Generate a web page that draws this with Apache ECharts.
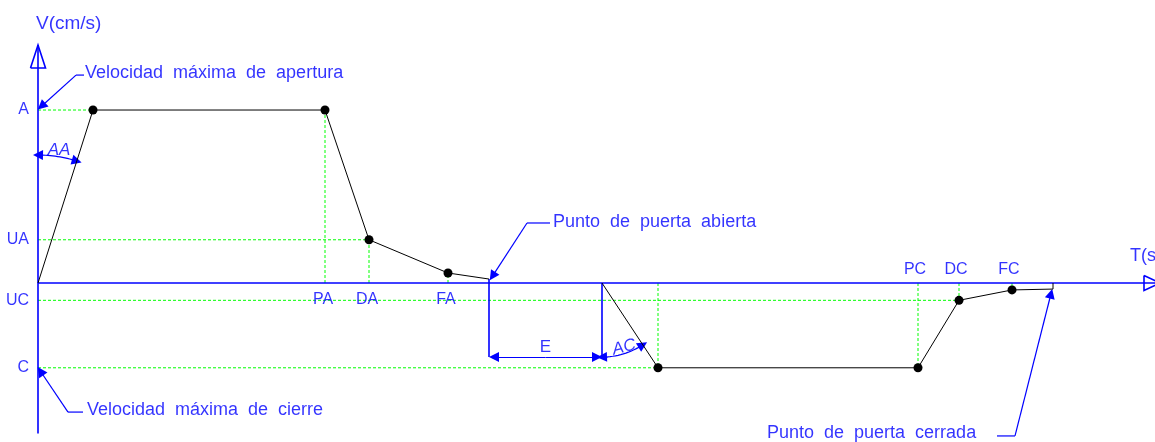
<!DOCTYPE html>
<html>
<head>
<meta charset="utf-8">
<script src="https://cdn.jsdelivr.net/npm/echarts@6/dist/echarts.min.js"></script>
<style>
  html, body { margin: 0; padding: 0; background: #fff; }
  #main { width: 1155px; height: 442px; }
</style>
</head>
<body>
<div id="main"></div>
<script>
// perfil de velocidad: apertura y cierre
const openT = [0, 1.1, 5.74, 6.62, 8.2, 9.02];
const openV = [0, 10, 10, 2.5, 0.58, 0.23];
const closeT = [11.28, 12.4, 17.6, 18.42, 19.48, 20.3, 20.3];
const closeV = [0, -4.9, -4.9, -1, -0.4, -0.35, 0];

// niveles del eje V y marcas del eje T
const levelNames = ['A', 'UA', 'UC', 'C'];
const levelValues = [10, 2.5, -1, -4.9];
const timeNamesBelow = ['PA', 'DA', 'FA'];
const timeBelow = [5.74, 6.62, 8.2];
const timeNamesAbove = ['PC', 'DC', 'FC'];
const timeAbove = [17.6, 18.42, 19.48];
const dimE = -4.28; // cota E

// rango de ejes (la rejilla ocupa todo el lienzo)
const tMin = -0.76, tMax = 22.34, vMin = -9.19, vMax = 16.36;
const W = 1155, H = 442;
const pxT = W / (tMax - tMin);
const pxV = H / (vMax - vMin);

const BLUE = '#0000ff';
const GREEN = '#00ff00';
const FONT = 'Liberation Sans';

const zip = (a, b) => a.map((x, i) => [x, b[i]]);

// arco de cota (angulo) en unidades del grafico
function arc(t0, v0, r, a1, down) {
  const pts = [];
  for (let i = 0; i <= 16; i++) {
    const a = a1 * i / 16;
    pts.push([t0 + r * Math.sin(a) / pxT, v0 + (down ? -1 : 1) * r * Math.cos(a) / pxV]);
  }
  return pts;
}

const aaAngle = Math.atan((openT[1] - openT[0]) * pxT / (openV[1] * pxV));
const acAngle = Math.atan((closeT[1] - closeT[0]) * pxT / (-closeV[1] * pxV));
const aaArc = arc(0, 0, 128, aaAngle, false);
const acArc = arc(closeT[0], 0, -dimE * pxV, acAngle, true);
const ends = pts => [
  { coords: [pts[2], pts[0]] },
  { coords: [pts[pts.length - 3], pts[pts.length - 1]] }
];

// lineas guia verdes [t1, v1, t2, v2]
const guides = [];
[[openT[1], openV[1]], [openT[3], openV[3]], [closeT[3], closeV[3]], [closeT[1], closeV[1]]]
  .forEach(p => guides.push([0, p[1], p[0], p[1]]));
[[openT[2], openV[2]], [openT[3], openV[3]], [openT[4], openV[4]],
 [closeT[1], closeV[1]], [closeT[2], closeV[2]], [closeT[3], closeV[3]], [closeT[4], closeV[4]]]
  .forEach(p => guides.push([p[0], 0, p[0], p[1]]));

const dots = zip(openT, openV).slice(1, 5).concat(zip(closeT, closeV).slice(1, 5));

// textos
const txt = (value, text, opt) => ({
  value: value,
  label: Object.assign({ show: true, formatter: text, color: BLUE, fontFamily: FONT, fontSize: 18 }, opt)
});
const sp = '  ';
const texts = [
  txt([0.94, 12.14], ['Velocidad', 'máxima', 'de', 'apertura'].join(sp), { position: 'right', distance: 0 }),
  txt([0.98, -7.34], ['Velocidad', 'máxima', 'de', 'cierre'].join(sp), { position: 'right', distance: 0 }),
  txt([10.3, 3.53], ['Punto', 'de', 'puerta', 'abierta'].join(sp), { position: 'right', distance: 0 }),
  txt([14.58, -8.67], ['Punto', 'de', 'puerta', 'cerrada'].join(sp), { position: 'right', distance: 0 }),
  txt([-0.04, 15.0], 'V(cm/s)', { position: 'right', distance: 0, fontSize: 19 }),
  txt([21.84, 1.56], 'T(s', { position: 'right', distance: 0 }),
  txt([(openT[5] + closeT[0]) / 2, dimE], 'E', { position: 'top', distance: 1, fontSize: 17 }),
  txt([0.42, 7.7], 'AA', { position: 'inside', fontStyle: 'italic', fontSize: 17 }),
  txt([11.72, -3.72], 'AC', { position: 'inside', fontStyle: 'italic', fontSize: 17, rotate: 14 })
];
levelNames.forEach((n, i) => texts.push(txt([0, levelValues[i]], n, { position: 'left', distance: 9, fontSize: 16 })));
timeNamesBelow.forEach((n, i) => texts.push(txt([timeBelow[i], 0], n, { position: 'bottom', distance: 9, fontSize: 16, offset: [-2, 0] })));
timeNamesAbove.forEach((n, i) => texts.push(txt([timeAbove[i], 0], n, { position: 'top', distance: 5, fontSize: 16, offset: [-3, 0] })));

const midE = (openT[5] + closeT[0]) / 2;

const chart = echarts.init(document.getElementById('main'));
chart.setOption({
  animation: false,
  backgroundColor: '#fff',
  grid: { left: 0, right: 0, top: 0, bottom: 0 },
  xAxis: { type: 'value', min: tMin, max: tMax, show: false },
  yAxis: { type: 'value', min: vMin, max: vMax, show: false },
  series: [
    {
      // guias discontinuas verdes
      type: 'custom', z: 1, data: guides,
      renderItem: (params, api) => {
        const a = api.coord([api.value(0), api.value(1)]);
        const b = api.coord([api.value(2), api.value(3)]);
        return {
          type: 'line',
          shape: { x1: a[0], y1: a[1], x2: b[0], y2: b[1] },
          style: { stroke: GREEN, lineWidth: 1, lineDash: [3, 2], fill: null }
        };
      }
    },
    {
      // ejes y lineas sin flecha
      type: 'lines', coordinateSystem: 'cartesian2d', polyline: true, z: 2,
      lineStyle: { color: BLUE, width: 1.6, opacity: 1 },
      data: [
        { coords: [[0, -8.7], [0, 13.76]] },
        { coords: [[0, 0], [22.44, 0]] },
        { coords: [[-0.15, 12.43], [0, 13.76], [0.15, 12.43], [-0.15, 12.43]] },
        { coords: [[22.12, 0.43], [22.44, 0], [22.12, -0.43], [22.12, 0.43]] },
        { coords: [[openT[5], openV[5]], [openT[5], dimE]] },
        { coords: [[closeT[0], 0], [closeT[0], dimE]] }
      ]
    },
    {
      type: 'lines', coordinateSystem: 'cartesian2d', polyline: true, z: 3,
      lineStyle: { color: BLUE, width: 1.2, opacity: 1 },
      data: [
        { coords: aaArc },
        { coords: acArc },
        { coords: [[0.92, 12.02], [0.76, 12.02]] },
        { coords: [[0.9, -7.46], [0.6, -7.46]] },
        { coords: [[10.24, 3.47], [9.78, 3.47]] },
        { coords: [[19.18, -8.84], [19.54, -8.84]] }
      ]
    },
    {
      // flechas: cota E, referencias de texto y extremos de arcos
      type: 'lines', coordinateSystem: 'cartesian2d', z: 3,
      symbol: ['none', 'triangle'], symbolSize: [4, 10],
      lineStyle: { color: BLUE, width: 1.2, opacity: 1 },
      itemStyle: { color: BLUE },
      data: [
        { coords: [[midE, dimE], [openT[5] + 0.1, dimE]] },
        { coords: [[midE, dimE], [closeT[0] - 0.1, dimE]] },
        { coords: [[0.76, 12.02], [0.07, 10.22]] },
        { coords: [[0.6, -7.46], [0.05, -5.1]] },
        { coords: [[9.78, 3.47], [9.09, 0.4]] },
        { coords: [[19.54, -8.84], [20.26, -0.62]] }
      ].concat(ends(aaArc), ends(acArc))
    },
    {
      type: 'line', data: zip(openT, openV), symbol: 'none', z: 4,
      lineStyle: { color: '#000', width: 1 }
    },
    {
      type: 'line', data: zip(closeT, closeV), symbol: 'none', z: 4,
      lineStyle: { color: '#000', width: 1 }
    },
    {
      type: 'scatter', data: dots, symbolSize: 9, z: 5,
      itemStyle: { color: '#000', opacity: 1 }
    },
    {
      type: 'scatter', data: texts, symbolSize: 0, z: 6, clip: false,
      itemStyle: { color: 'transparent' }
    }
  ]
});
</script>
</body>
</html>
